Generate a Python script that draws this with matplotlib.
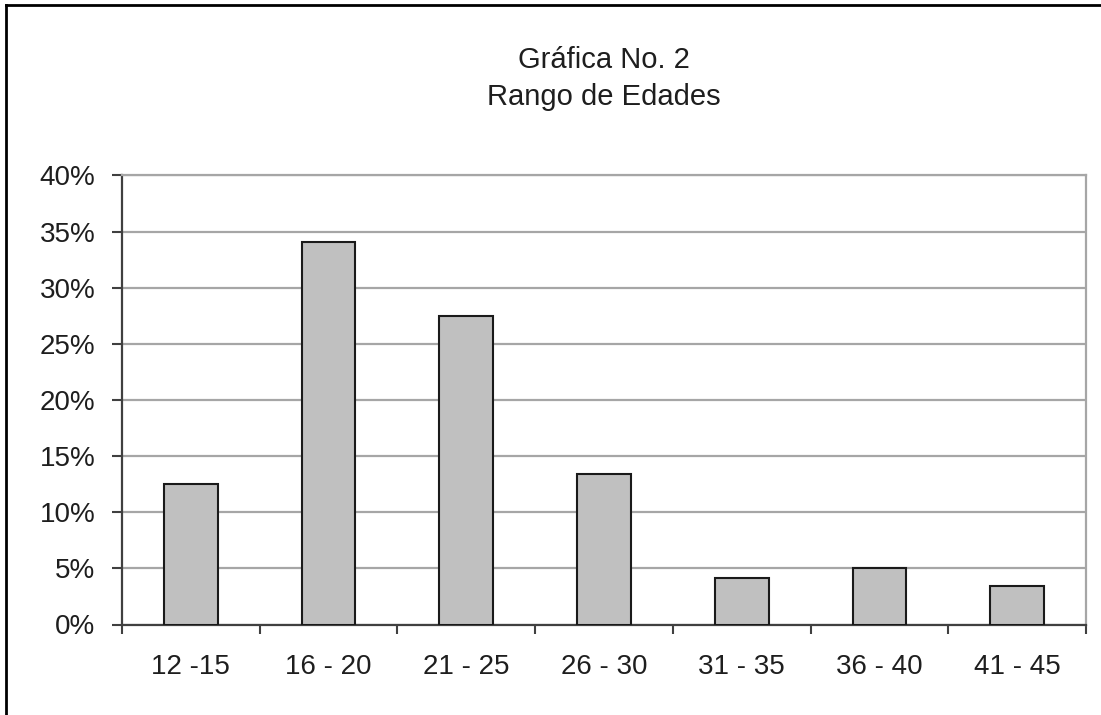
import numpy as np
import matplotlib.pyplot as plt
from matplotlib.lines import Line2D
from matplotlib.ticker import FuncFormatter

# ---------------- datos ----------------
rangos = ['12 -15', '16 - 20', '21 - 25', '26 - 30', '31 - 35', '36 - 40', '41 - 45']
porcentajes = [12.5, 34.1, 27.5, 13.4, 4.1, 5.0, 3.4]
ticks_y = [0, 5, 10, 15, 20, 25, 30, 35, 40]

titulo = 'Gráfica No. 2'
subtitulo = 'Rango de Edades'

plt.rcParams['font.family'] = ['Liberation Sans', 'DejaVu Sans']

W, H = 1101, 715
fig = plt.figure(figsize=(W / 100, H / 100), dpi=100)
fig.patch.set_facecolor('white')

# area de trazado (en pixeles de la imagen original)
x0, x1, y_top, y_bot = 122, 1086, 175.5, 624.5
ax = fig.add_axes([x0 / W, 1 - y_bot / H, (x1 - x0) / W, (y_bot - y_top) / H])

x = np.arange(len(rangos))
ax.bar(x, porcentajes, width=0.39, color='#c0c0c0', edgecolor='#1a1a1a',
       linewidth=1.5, zorder=3)

ax.set_xlim(-0.5, len(rangos) - 0.5)
ax.set_ylim(0, 40)

# eje y
ax.set_yticks(ticks_y)
ax.yaxis.set_major_formatter(FuncFormatter(lambda v, p: f'{v:.0f}%'))
ax.yaxis.grid(True, color='#a6a6a6', linewidth=1.6, zorder=0)
ax.tick_params(axis='y', length=7.2, width=1.5, color='#404040', pad=12,
               labelsize=20, labelcolor='#1e1e1e')

# eje x: marcas entre categorias, etiquetas centradas
ax.set_xticks(np.arange(-0.5, len(rangos), 1.0))
ax.set_xticklabels([])
ax.set_xticks(x, minor=True)
ax.set_xticklabels(rangos, minor=True)
ax.tick_params(axis='x', which='major', length=6.5, width=1.5, color='#404040')
ax.tick_params(axis='x', which='minor', length=0, pad=21, labelsize=20,
               labelcolor='#1e1e1e')

for lado in ['left', 'bottom']:
    ax.spines[lado].set_color('#404040')
    ax.spines[lado].set_linewidth(1.6)
for lado in ['top', 'right']:
    ax.spines[lado].set_color('#a6a6a6')
    ax.spines[lado].set_linewidth(1.6)

# titulo
cx = (x0 + x1) / 2 / W
fig.text(cx, 1 - 68 / H, titulo, ha='center', va='baseline', fontsize=21, color='#1e1e1e')
fig.text(cx, 1 - 105 / H, subtitulo, ha='center', va='baseline', fontsize=21, color='#1e1e1e')

# marco (solo arriba e izquierda visibles)
fig.add_artist(Line2D([6 / W, 6 / W], [0, 1 - 5 / H], transform=fig.transFigure,
                      color='black', linewidth=2))
fig.add_artist(Line2D([6 / W, 1], [1 - 5 / H, 1 - 5 / H], transform=fig.transFigure,
                      color='black', linewidth=2))

fig.savefig('out.png', dpi=100)
